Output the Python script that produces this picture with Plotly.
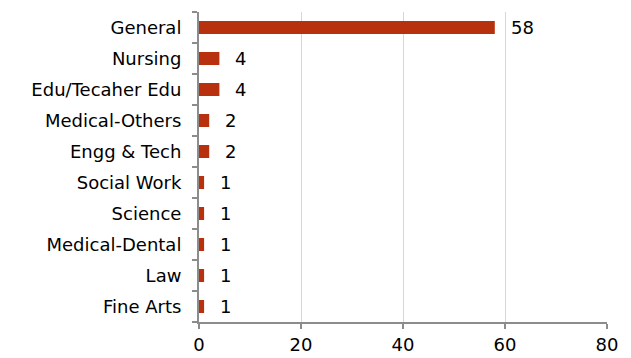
import plotly.graph_objects as go

categories = ["General", "Nursing", "Edu/Tecaher Edu", "Medical-Others", "Engg & Tech",
              "Social Work", "Science", "Medical-Dental", "Law", "Fine Arts"]
values = [58, 4, 4, 2, 2, 1, 1, 1, 1, 1]
x_ticks = [0, 20, 40, 60, 80]

FONT = "DejaVu Sans, Liberation Sans, Arial, sans-serif"
FS = 18

fig = go.Figure(go.Bar(
    y=categories, x=values, orientation="h",
    marker=dict(color="#B7310F", line=dict(width=0)),
    width=0.42,
))

for c, v in zip(categories, values):
    fig.add_annotation(x=v, y=c, text=str(v), showarrow=False, xanchor="left",
                       xshift=14, font=dict(family=FONT, size=FS, color="#000000"))

# page body has an 8px default margin; margins compensate so the plot area
# lands at x 199..607, y 12..322 in the window
fig.update_layout(
    width=631, height=358,
    margin=dict(l=191, r=32, t=4, b=44),
    paper_bgcolor="white", plot_bgcolor="white",
    showlegend=False,
    font=dict(family=FONT, size=FS, color="#000000"),
    xaxis=dict(range=[0, 80], tickvals=x_ticks, showgrid=True, gridcolor="#CFE3A8",
               gridwidth=1, zeroline=False, showline=True, linecolor="#8C8C8C",
               linewidth=2, ticks="outside", ticklen=5, tickcolor="#8C8C8C",
               tickwidth=2, ticklabelstandoff=0, tickfont=dict(family=FONT, size=FS)),
    yaxis=dict(categoryorder="array", categoryarray=categories[::-1],
               showgrid=False, zeroline=False, showline=True, linecolor="#8C8C8C",
               linewidth=2, ticks="outside", ticklen=5, tickcolor="#8C8C8C",
               tickwidth=2, tickson="boundaries", ticklabelstandoff=12,
               tickfont=dict(family=FONT, size=FS)),
)

fig.write_html("out.html")
